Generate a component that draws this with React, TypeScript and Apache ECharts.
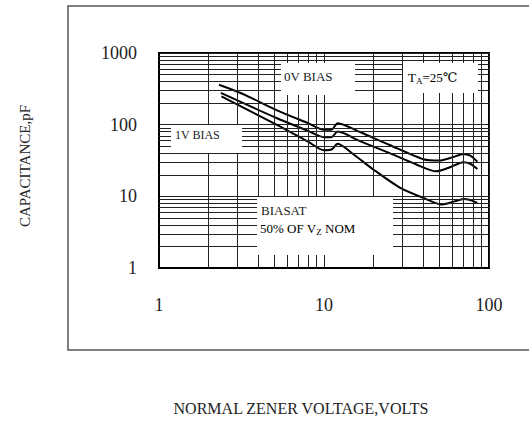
import React, { useEffect, useRef } from "react";
import * as echarts from "echarts";

// Curves (voltage V, capacitance pF)
const zeroBias: number[][] = [
  [2.31, 360], [3.2, 270], [5.15, 160], [8, 105], [10, 85], [11.1, 85], [12.1, 105],
  [16.5, 79], [25, 52], [40, 33], [50, 31.5], [60, 35], [70, 39], [77, 37], [85, 30.5],
];
const oneVBias: number[][] = [
  [2.37, 277], [5.15, 124], [8, 82], [10, 67], [11.1, 67], [12.1, 80],
  [16.5, 59], [25, 40], [36, 28], [48, 22.3], [57, 25], [70, 30], [77, 28.5], [85, 24],
];
const halfBias: number[][] = [
  [2.39, 248], [5.15, 100], [8, 58], [10, 44], [11.1, 45], [12.1, 54],
  [15, 39], [20, 23.5], [29, 13.1], [40, 9.5], [52, 7.7], [62, 8.5], [70, 9.2], [77, 8.9], [85, 8.1],
];

// Minor grid values
const gridX: number[] = [2, 3, 4, 5, 6, 7, 8, 9, 20, 30, 40, 50, 60, 70, 80, 90];
const gridY: number[] = [2, 3, 4, 5, 6, 7, 8, 9, 20, 30, 40, 50, 60, 70, 80, 90, 200, 300, 400, 500, 600, 700, 800, 900];

const FONT = '"Liberation Serif", "DejaVu Serif", "Noto Sans CJK TC", serif';

export default function App() {
  const ref = useRef<HTMLDivElement>(null);
  useEffect(() => {
    if (!ref.current) return;
    const chart = echarts.init(ref.current, undefined, { renderer: "svg" });
    const curveStyle = { color: "#000", width: 2 };
    const mainRich = { fontSize: 13, fontFamily: FONT, color: "#222", lineHeight: 16 };
    const subRich = { fontSize: 9, fontFamily: FONT, color: "#222", lineHeight: 10, verticalAlign: "bottom" };
    const Z = 100;
    chart.setOption({
      animation: false,
      backgroundColor: "#fff",
      grid: { left: 159, top: 53, right: 40, bottom: 153, show: true, borderColor: "#000", borderWidth: 2 },
      xAxis: {
        type: "log", logBase: 10, min: 1, max: 100,
        axisLine: { show: true, lineStyle: { color: "#000", width: 2 } },
        axisTick: { show: false },
        axisLabel: { margin: 28, fontSize: 18, fontFamily: FONT, color: "#222", formatter: (v: number) => String(Math.round(v)) },
        splitLine: { show: true, lineStyle: { color: "#222", width: 1 } },
      },
      yAxis: {
        type: "log", logBase: 10, min: 1, max: 1000,
        axisLine: { show: true, lineStyle: { color: "#000", width: 2 } },
        axisTick: { show: false },
        axisLabel: { margin: 22, fontSize: 18, fontFamily: FONT, color: "#222", formatter: (v: number) => String(Math.round(v)) },
        splitLine: { show: true, lineStyle: { color: "#222", width: 1 } },
      },
      series: [
        {
          type: "line", data: [[1, 1]], showSymbol: false, silent: true,
          lineStyle: { opacity: 0 }, z: 1,
          markLine: {
            silent: true, symbol: ["none", "none"], label: { show: false },
            lineStyle: { color: "#222", width: 1, type: "solid" },
            emphasis: { disabled: true },
            data: [...gridX.map((v) => ({ xAxis: v })), ...gridY.map((v) => ({ yAxis: v }))],
          },
        },
        { type: "line", data: zeroBias, smooth: 0.25, showSymbol: false, lineStyle: curveStyle, z: 3 },
        { type: "line", data: oneVBias, smooth: 0.25, showSymbol: false, lineStyle: curveStyle, z: 3 },
        { type: "line", data: halfBias, smooth: 0.25, showSymbol: false, lineStyle: curveStyle, z: 3 },
      ],
      graphic: [
        { type: "rect", z: 0, shape: { x: 68, y: 6, width: 480, height: 344 }, style: { fill: "none", stroke: "#555", lineWidth: 1.5 } },
        { type: "rect", z: Z, shape: { x: 281, y: 63, width: 74, height: 32 }, style: { fill: "#fff" } },
        { type: "rect", z: Z, shape: { x: 403, y: 63, width: 75, height: 30 }, style: { fill: "#fff" } },
        { type: "rect", z: Z, shape: { x: 171, y: 125, width: 71, height: 28 }, style: { fill: "#fff" } },
        { type: "rect", z: Z, shape: { x: 257, y: 197, width: 136, height: 58 }, style: { fill: "#fff" } },
        { type: "text", z: Z + 1, x: 284, y: 76, style: { text: "0V BIAS", font: `13px ${FONT}`, fill: "#222", verticalAlign: "middle" } },
        { type: "text", z: Z + 1, x: 175, y: 135, style: { text: "1V BIAS", font: `12px ${FONT}`, fill: "#222", verticalAlign: "middle" } },
        {
          type: "text", z: Z + 1, x: 408, y: 77,
          style: { text: "{m|T}{s|A}{m|=25℃}", rich: { m: mainRich, s: subRich }, verticalAlign: "middle" },
        },
        { type: "text", z: Z + 1, x: 261, y: 210, style: { text: "BIASAT", font: `13px ${FONT}`, fill: "#222", verticalAlign: "middle" } },
        {
          type: "text", z: Z + 1, x: 260, y: 228,
          style: { text: "{m|50% OF V}{s|Z}{m| NOM}", rich: { m: mainRich, s: subRich }, verticalAlign: "middle" },
        },
        {
          type: "text", z: Z + 1, x: 301, y: 408,
          style: { text: "NORMAL ZENER VOLTAGE,VOLTS", font: `16px ${FONT}`, fill: "#222", align: "center", verticalAlign: "middle" },
        },
        {
          type: "text", z: Z + 1, x: 25, y: 166, rotation: Math.PI / 2,
          style: { text: "CAPACITANCE,pF", font: `15px ${FONT}`, fill: "#222", align: "center", verticalAlign: "middle" },
        },
      ],
    });
    return () => chart.dispose();
  }, []);
  return <div ref={ref} style={{ position: "fixed", left: 0, top: 0, width: 529, height: 421, background: "#fff" }} />;
}
